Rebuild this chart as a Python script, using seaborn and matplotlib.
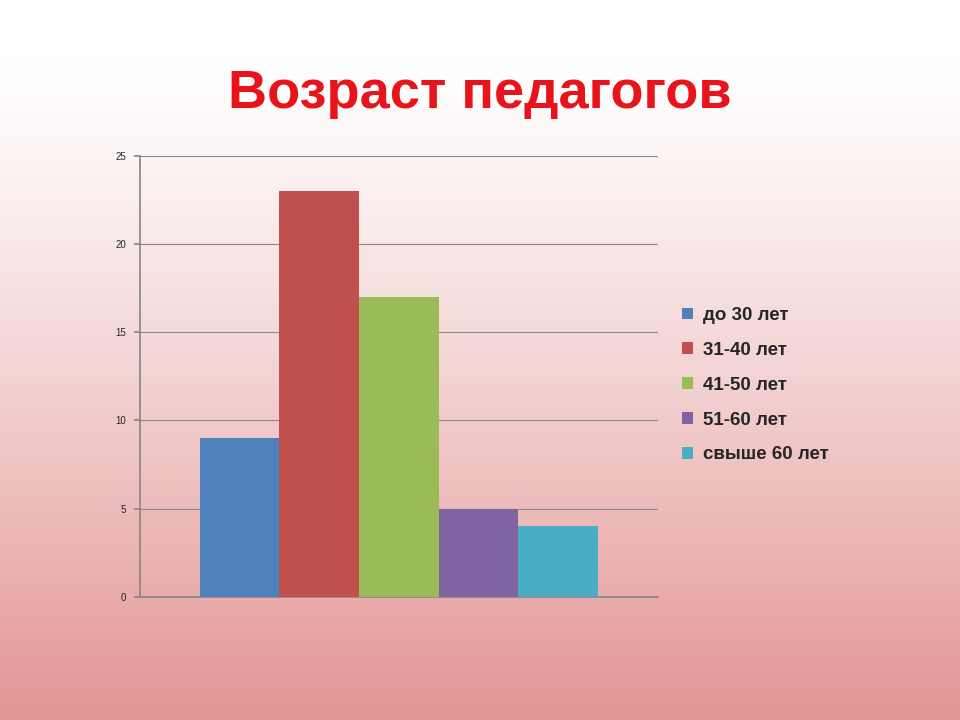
import matplotlib
matplotlib.use("Agg")
import matplotlib.pyplot as plt
import seaborn as sns
import numpy as np
import pandas as pd

age_groups = ["до 30 лет", "31-40 лет", "41-50 лет", "51-60 лет", "свыше 60 лет"]
teacher_counts = [9, 23, 17, 5, 4]
bar_colors = ["#4F81BD", "#C0504D", "#9BBB59", "#8064A2", "#4BACC6"]
y_ticks = [0, 5, 10, 15, 20, 25]

df = pd.DataFrame({"cat": [""] * len(age_groups), "group": age_groups, "count": teacher_counts})

sns.set_theme(style="white")
plt.rcParams["font.family"] = ["Arial", "Liberation Sans", "DejaVu Sans"]

fig = plt.figure(figsize=(9.6, 7.2), dpi=100)

# gradient background: white at top, pink-red at bottom
bg = fig.add_axes([0, 0, 1, 1], zorder=-10)
t = np.linspace(0, 1, 256)[:, None]
top = np.array([1.0, 1.0, 1.0])
bottom = np.array([0.89, 0.58, 0.58])
w = np.clip((t - 0.08) / 0.92, 0, 1) ** 1.2
grad = top * (1 - w[..., None]) + bottom * w[..., None]
grad = np.repeat(grad, 2, axis=1)
bg.imshow(grad, aspect="auto", extent=[0, 1, 0, 1], origin="upper")
bg.axis("off")

ax = fig.add_axes([0.146, 0.171, 0.539, 0.6125])
ax.patch.set_alpha(0)
sns.barplot(data=df, x="cat", y="count", hue="group", hue_order=age_groups,
            palette=bar_colors, width=0.77, saturation=1, linewidth=0,
            ax=ax, zorder=3)

ax.set_ylim(0, 25)
ax.set_xlim(-0.5, 0.5)
ax.set_yticks(y_ticks)
ax.set_yticklabels([str(v) for v in y_ticks], fontsize=7)
ax.set_xticks([])
ax.set_xlabel("")
ax.set_ylabel("")
ax.grid(axis="y", color="#888888", linewidth=0.8, zorder=0)
for side in ["top", "right"]:
    ax.spines[side].set_visible(False)
ax.spines["left"].set_color("#888888")
ax.spines["bottom"].set_color("#888888")
ax.tick_params(axis="y", length=4, color="#888888", direction="out", left=True, pad=6)

handles, labels = ax.get_legend_handles_labels()
ax.legend(handles, labels, loc="center left", bbox_to_anchor=(1.015, 0.48),
          frameon=False, prop={"size": 13.5, "weight": "bold"},
          handlelength=0.6, handleheight=0.6, labelspacing=0.95, handletextpad=0.5)

fig.text(0.5, 0.87, "Возраст педагогов", ha="center", va="center",
         fontsize=39, fontweight="bold", color="#E8141B")

fig.savefig("out.png", dpi=100)
plt.close(fig)
